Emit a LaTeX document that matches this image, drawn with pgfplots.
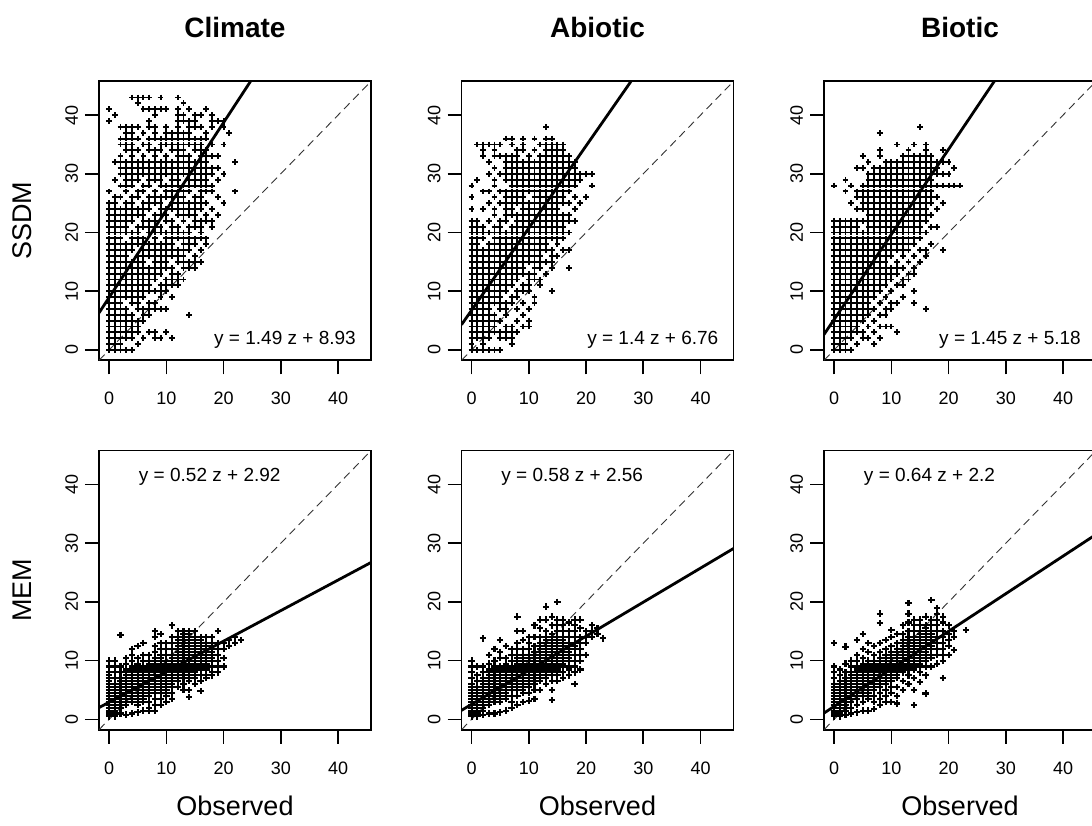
\documentclass[border=0pt]{standalone}
\usepackage{fontspec}
\setmainfont{Liberation Sans}
\usepackage{pgfplots}
\pgfplotsset{compat=1.18}
\pgfplotsset{
  panel/.style={
    scale only axis, width=136pt, height=139.5pt, anchor=south west,
    xmin=-1.76, xmax=45.76, ymin=-1.76, ymax=45.76,
    xtick={0,10,20,30,40}, ytick={0,10,20,30,40},
    tick pos=left, tick align=outside, major tick length=7pt,
    every tick/.style={black, line width=0.8pt},
    axis line style={line width=0.8pt},
    ticklabel style={font=\fontsize{9}{10}\selectfont},
    /pgf/number format/assume math mode=true,
    yticklabel style={rotate=90, anchor=south},
    xticklabel style={anchor=north, yshift=-5.5pt},
    title style={at={(0.5,1.151)}, anchor=center, font=\bfseries\fontsize{14}{16}\selectfont},
    xlabel style={at={(axis description cs:0.5,-0.272)}, anchor=center, font=\fontsize{13.5}{15}\selectfont},
    ylabel style={at={(axis description cs:-0.283,0.5)}, anchor=center, font=\fontsize{13.5}{15}\selectfont},
  },
  pts/.style={only marks, mark=+, mark size=1.45pt, mark options={line width=0.95pt}, black},
  ptm/.style={only marks, mark=+, mark size=1.6pt, mark options={line width=1.05pt}, black},
  fit/.style={no marks, line width=1.4pt, black},
  one/.style={no marks, line width=0.45pt, black!80, dash pattern=on 4pt off 2.5pt},
}
\newcommand{\eqfont}{\fontsize{9.5}{11}\selectfont}
\begin{document}
\begin{tikzpicture}
\path[use as bounding box] (0,0) rectangle (546pt,412.5pt);
% ---------------- SSDM Climate
\begin{axis}[panel, at={(49.5pt,232.35pt)}, title={Climate}, ylabel={SSDM}]
\addplot[pts] coordinates {
(0,0)(0,1)(0,2)(0,3)(0,4)(0,5)(0,6)(0,7)(0,8)(0,9)(0,10)(0,11)(0,12)(0,13)(0,14)(0,15)(0,16)(0,17)(0,18)(0,19)(0,20)(0,21)(0,22)(0,23)(0,24)(0,25)(0,27)(0,39)(0,41)
(1,0)(1,1)(1,2)(1,3)(1,4)(1,5)(1,6)(1,7)(1,8)(1,9)(1,10)(1,11)(1,12)(1,13)(1,14)(1,15)(1,16)(1,17)(1,18)(1,19)(1,20)(1,21)(1,22)(1,23)(1,24)(1,25)(1,26)(1,29)(1,32)(1,40)
(2,0)(2,1)(2,2)(2,3)(2,4)(2,5)(2,6)(2,7)(2,8)(2,9)(2,10)(2,11)(2,12)(2,13)(2,14)(2,15)(2,16)(2,17)(2,18)(2,19)(2,20)(2,21)(2,22)(2,23)(2,24)(2,26)(2,28)(2,30)(2,31)(2,32)(2,33)(2,35)(2,36)(2,38)
(3,0)(3,2)(3,3)(3,4)(3,5)(3,6)(3,7)(3,9)(3,10)(3,11)(3,12)(3,13)(3,14)(3,15)(3,16)(3,17)(3,18)(3,20)(3,21)(3,22)(3,23)(3,24)(3,25)(3,27)(3,28)(3,29)(3,30)(3,31)(3,32)(3,34)(3,35)(3,36)(3,37)(3,38)
(4,0)(4,2)(4,3)(4,4)(4,5)(4,6)(4,8)(4,9)(4,10)(4,11)(4,12)(4,13)(4,14)(4,15)(4,17)(4,18)(4,19)(4,20)(4,22)(4,23)(4,24)(4,25)(4,26)(4,28)(4,29)(4,30)(4,31)(4,32)(4,33)(4,34)(4,35)(4,36)(4,37)(4,38)(4,43)
(5,1)(5,3)(5,4)(5,5)(5,7)(5,8)(5,9)(5,10)(5,11)(5,12)(5,13)(5,14)(5,15)(5,16)(5,18)(5,19)(5,20)(5,21)(5,23)(5,24)(5,26)(5,27)(5,29)(5,30)(5,31)(5,32)(5,34)(5,36)(5,38)(5,42)(5,43)
(6,2)(6,5)(6,6)(6,7)(6,9)(6,10)(6,11)(6,12)(6,13)(6,14)(6,15)(6,16)(6,17)(6,18)(6,19)(6,21)(6,22)(6,23)(6,24)(6,25)(6,27)(6,28)(6,30)(6,31)(6,32)(6,33)(6,35)(6,37)(6,41)(6,43)
(7,3)(7,6)(7,7)(7,8)(7,10)(7,11)(7,12)(7,13)(7,14)(7,16)(7,17)(7,18)(7,20)(7,21)(7,22)(7,24)(7,25)(7,26)(7,28)(7,29)(7,30)(7,31)(7,32)(7,34)(7,35)(7,36)(7,38)(7,39)(7,41)(7,43)
(8,2)(8,3)(8,7)(8,8)(8,10)(8,12)(8,13)(8,14)(8,15)(8,16)(8,17)(8,18)(8,19)(8,20)(8,21)(8,22)(8,23)(8,25)(8,26)(8,27)(8,29)(8,30)(8,31)(8,32)(8,33)(8,34)(8,36)(8,37)(8,38)(8,40)(8,41)
(9,2)(9,7)(9,9)(9,10)(9,11)(9,13)(9,14)(9,15)(9,16)(9,17)(9,18)(9,20)(9,21)(9,23)(9,24)(9,25)(9,26)(9,28)(9,29)(9,30)(9,31)(9,32)(9,34)(9,35)(9,36)(9,41)(9,43)
(10,3)(10,7)(10,10)(10,11)(10,12)(10,14)(10,15)(10,16)(10,17)(10,18)(10,19)(10,20)(10,22)(10,23)(10,24)(10,26)(10,27)(10,28)(10,30)(10,31)(10,32)(10,33)(10,35)(10,36)(10,37)(10,38)(10,41)
(11,2)(11,9)(11,11)(11,12)(11,13)(11,14)(11,16)(11,17)(11,18)(11,19)(11,20)(11,21)(11,22)(11,24)(11,25)(11,26)(11,27)(11,28)(11,29)(11,30)(11,31)(11,32)(11,34)(11,35)(11,36)(11,37)
(12,11)(12,12)(12,13)(12,15)(12,16)(12,17)(12,19)(12,20)(12,21)(12,23)(12,24)(12,25)(12,26)(12,27)(12,28)(12,29)(12,30)(12,31)(12,32)(12,33)(12,34)(12,35)(12,36)(12,37)(12,38)(12,39)(12,40)(12,41)(12,43)
(13,12)(13,14)(13,15)(13,16)(13,17)(13,18)(13,19)(13,20)(13,22)(13,23)(13,24)(13,25)(13,26)(13,27)(13,28)(13,30)(13,31)(13,32)(13,33)(13,34)(13,35)(13,36)(13,37)(13,39)(13,40)(13,42)
(14,6)(14,14)(14,15)(14,17)(14,18)(14,19)(14,20)(14,21)(14,23)(14,24)(14,25)(14,27)(14,28)(14,29)(14,30)(14,31)(14,32)(14,33)(14,35)(14,36)(14,37)(14,38)(14,39)(14,41)
(15,14)(15,15)(15,16)(15,18)(15,19)(15,21)(15,22)(15,23)(15,24)(15,25)(15,26)(15,28)(15,29)(15,30)(15,31)(15,32)(15,34)(15,35)(15,36)(15,38)(15,39)(15,40)
(16,15)(16,17)(16,19)(16,20)(16,21)(16,22)(16,24)(16,25)(16,26)(16,27)(16,28)(16,29)(16,30)(16,31)(16,32)(16,33)(16,34)(16,35)(16,36)(16,38)(16,40)
(17,18)(17,19)(17,22)(17,23)(17,25)(17,27)(17,28)(17,29)(17,30)(17,31)(17,32)(17,33)(17,34)(17,36)(17,37)(17,41)
(18,21)(18,22)(18,24)(18,27)(18,28)(18,30)(18,31)(18,33)(18,35)(18,38)(18,39)(18,40)
(19,23)(19,26)(19,29)(19,31)(19,33)(19,39)
(20,25)(20,30)(20,35)(20,38)(20,39)
(21,37)(22,27)(22,32)
};
\addplot[one] coordinates {(-1.76,-1.76)(45.76,45.76)};
\addplot[fit] coordinates {(-1.76,6.31)(24.72,45.76)};
\node[anchor=east, font=\eqfont] at (rel axis cs:0.97,0.075) {y = 1.49 z + 8.93};
\end{axis}
% ---------------- SSDM Abiotic
\begin{axis}[panel, at={(230.75pt,232.35pt)}, title={Abiotic}]
\addplot[pts] coordinates {
(0,0)(0,1)(0,2)(0,3)(0,4)(0,5)(0,6)(0,7)(0,8)(0,9)(0,10)(0,11)(0,12)(0,13)(0,14)(0,15)(0,16)(0,17)(0,18)(0,19)(0,20)(0,21)(0,22)(0,24)(0,26)(0,28)
(1,0)(1,2)(1,3)(1,4)(1,5)(1,6)(1,7)(1,8)(1,9)(1,10)(1,11)(1,12)(1,13)(1,14)(1,15)(1,16)(1,17)(1,18)(1,19)(1,20)(1,21)(1,22)(1,29)(1,35)
(2,0)(2,1)(2,2)(2,3)(2,4)(2,5)(2,6)(2,7)(2,8)(2,9)(2,10)(2,11)(2,12)(2,13)(2,14)(2,15)(2,16)(2,17)(2,19)(2,20)(2,21)(2,24)(2,27)(2,33)(2,34)(2,35)
(3,0)(3,2)(3,3)(3,4)(3,5)(3,6)(3,7)(3,8)(3,9)(3,10)(3,11)(3,12)(3,13)(3,14)(3,15)(3,16)(3,17)(3,18)(3,20)(3,22)(3,25)(3,27)(3,30)(3,32)(3,35)
(4,0)(4,3)(4,4)(4,5)(4,6)(4,8)(4,9)(4,10)(4,11)(4,12)(4,13)(4,14)(4,15)(4,16)(4,17)(4,18)(4,19)(4,20)(4,21)(4,23)(4,24)(4,26)(4,28)(4,29)(4,31)(4,33)(4,34)(4,35)
(5,0)(5,2)(5,3)(5,5)(5,7)(5,8)(5,9)(5,10)(5,11)(5,12)(5,13)(5,14)(5,15)(5,16)(5,17)(5,18)(5,19)(5,20)(5,21)(5,22)(5,25)(5,27)(5,30)(5,33)(5,35)
(6,2)(6,3)(6,4)(6,6)(6,7)(6,8)(6,10)(6,11)(6,12)(6,13)(6,14)(6,15)(6,16)(6,17)(6,18)(6,19)(6,20)(6,22)(6,23)(6,24)(6,25)(6,26)(6,27)(6,29)(6,30)(6,31)(6,32)(6,33)(6,36)
(7,1)(7,2)(7,3)(7,4)(7,8)(7,9)(7,11)(7,12)(7,13)(7,14)(7,15)(7,16)(7,17)(7,18)(7,19)(7,20)(7,21)(7,23)(7,24)(7,25)(7,26)(7,27)(7,28)(7,29)(7,30)(7,31)(7,32)(7,33)(7,35)(7,36)
(8,3)(8,5)(8,7)(8,9)(8,10)(8,12)(8,13)(8,14)(8,15)(8,16)(8,17)(8,18)(8,19)(8,20)(8,21)(8,22)(8,23)(8,25)(8,26)(8,27)(8,28)(8,29)(8,30)(8,31)(8,32)(8,33)(8,34)
(9,4)(9,6)(9,8)(9,10)(9,11)(9,13)(9,14)(9,15)(9,16)(9,17)(9,18)(9,19)(9,20)(9,21)(9,22)(9,23)(9,24)(9,25)(9,26)(9,27)(9,28)(9,29)(9,30)(9,31)(9,32)(9,34)(9,35)(9,36)
(10,4)(10,5)(10,7)(10,10)(10,11)(10,12)(10,13)(10,15)(10,16)(10,17)(10,18)(10,19)(10,20)(10,21)(10,22)(10,23)(10,24)(10,25)(10,27)(10,28)(10,29)(10,30)(10,31)(10,32)(10,33)
(11,8)(11,9)(11,12)(11,13)(11,14)(11,15)(11,16)(11,17)(11,18)(11,19)(11,20)(11,21)(11,22)(11,23)(11,24)(11,25)(11,26)(11,27)(11,28)(11,29)(11,30)(11,31)(11,32)(11,34)(11,36)
(12,11)(12,12)(12,14)(12,15)(12,16)(12,17)(12,18)(12,19)(12,20)(12,21)(12,22)(12,23)(12,24)(12,25)(12,26)(12,27)(12,28)(12,29)(12,30)(12,31)(12,32)(12,33)(12,35)
(13,13)(13,15)(13,17)(13,18)(13,19)(13,20)(13,21)(13,22)(13,23)(13,24)(13,25)(13,26)(13,27)(13,28)(13,29)(13,30)(13,31)(13,32)(13,33)(13,34)(13,35)(13,36)(13,38)
(14,10)(14,14)(14,15)(14,16)(14,17)(14,19)(14,20)(14,21)(14,22)(14,23)(14,24)(14,25)(14,26)(14,27)(14,28)(14,29)(14,30)(14,31)(14,32)(14,33)(14,34)(14,35)(14,36)
(15,16)(15,18)(15,19)(15,20)(15,21)(15,22)(15,23)(15,24)(15,25)(15,26)(15,27)(15,28)(15,29)(15,30)(15,31)(15,32)(15,33)(15,34)(15,35)
(16,17)(16,19)(16,20)(16,21)(16,22)(16,23)(16,25)(16,26)(16,27)(16,28)(16,29)(16,30)(16,31)(16,32)(16,33)(16,34)(16,35)
(17,14)(17,17)(17,20)(17,22)(17,23)(17,25)(17,27)(17,28)(17,29)(17,30)(17,31)(17,32)(17,33)
(18,22)(18,24)(18,26)(18,28)(18,29)(18,30)(18,31)(18,32)
(19,25)(19,29)(19,30)(20,26)(20,30)(21,28)(21,30)
};
\addplot[one] coordinates {(-1.76,-1.76)(45.76,45.76)};
\addplot[fit] coordinates {(-1.76,4.30)(27.86,45.76)};
\node[anchor=east, font=\eqfont] at (rel axis cs:0.97,0.075) {y = 1.4 z + 6.76};
\end{axis}
% ---------------- SSDM Biotic
\begin{axis}[panel, at={(412pt,232.35pt)}, title={Biotic}]
\addplot[pts] coordinates {
(0,0)(0,1)(0,2)(0,3)(0,4)(0,5)(0,6)(0,7)(0,8)(0,9)(0,10)(0,11)(0,12)(0,13)(0,14)(0,15)(0,16)(0,17)(0,18)(0,19)(0,20)(0,21)(0,22)(0,28)
(1,0)(1,1)(1,2)(1,3)(1,4)(1,5)(1,6)(1,7)(1,8)(1,9)(1,10)(1,11)(1,12)(1,13)(1,14)(1,15)(1,16)(1,17)(1,18)(1,19)(1,20)(1,21)(1,22)
(2,0)(2,1)(2,2)(2,3)(2,4)(2,5)(2,6)(2,7)(2,8)(2,9)(2,10)(2,11)(2,12)(2,13)(2,14)(2,15)(2,16)(2,17)(2,18)(2,19)(2,20)(2,21)(2,22)(2,27)(2,29)
(3,0)(3,2)(3,3)(3,4)(3,5)(3,6)(3,7)(3,8)(3,9)(3,10)(3,11)(3,12)(3,13)(3,14)(3,15)(3,16)(3,17)(3,18)(3,19)(3,20)(3,21)(3,22)(3,25)(3,28)
(4,1)(4,3)(4,4)(4,5)(4,6)(4,7)(4,8)(4,9)(4,10)(4,11)(4,12)(4,13)(4,14)(4,15)(4,16)(4,17)(4,18)(4,19)(4,20)(4,21)(4,22)(4,24)(4,26)(4,27)(4,31)
(5,2)(5,3)(5,5)(5,6)(5,7)(5,8)(5,9)(5,10)(5,11)(5,12)(5,13)(5,14)(5,15)(5,16)(5,17)(5,18)(5,19)(5,20)(5,22)(5,24)(5,25)(5,26)(5,27)(5,28)(5,31)(5,33)
(6,2)(6,4)(6,6)(6,7)(6,8)(6,9)(6,10)(6,11)(6,12)(6,13)(6,14)(6,15)(6,16)(6,17)(6,18)(6,19)(6,20)(6,21)(6,22)(6,23)(6,24)(6,25)(6,26)(6,27)(6,28)(6,29)(6,30)(6,32)
(7,1)(7,3)(7,5)(7,7)(7,9)(7,10)(7,11)(7,12)(7,13)(7,14)(7,15)(7,16)(7,17)(7,18)(7,19)(7,20)(7,21)(7,22)(7,23)(7,24)(7,25)(7,26)(7,27)(7,28)(7,29)(7,30)(7,31)
(8,2)(8,4)(8,6)(8,8)(8,10)(8,11)(8,12)(8,13)(8,14)(8,15)(8,16)(8,17)(8,18)(8,19)(8,20)(8,21)(8,22)(8,23)(8,24)(8,25)(8,26)(8,27)(8,28)(8,29)(8,30)(8,31)(8,33)(8,34)(8,37)
(9,4)(9,6)(9,7)(9,9)(9,11)(9,12)(9,13)(9,14)(9,15)(9,16)(9,17)(9,18)(9,19)(9,20)(9,21)(9,22)(9,23)(9,24)(9,25)(9,26)(9,27)(9,28)(9,29)(9,30)(9,31)(9,32)
(10,4)(10,7)(10,8)(10,10)(10,12)(10,13)(10,14)(10,16)(10,17)(10,18)(10,19)(10,20)(10,21)(10,22)(10,23)(10,24)(10,25)(10,26)(10,27)(10,28)(10,29)(10,30)(10,31)(10,32)
(11,3)(11,8)(11,11)(11,13)(11,14)(11,15)(11,17)(11,18)(11,19)(11,20)(11,21)(11,22)(11,23)(11,24)(11,25)(11,26)(11,27)(11,28)(11,29)(11,30)(11,31)(11,32)(11,35)
(12,9)(12,11)(12,12)(12,14)(12,16)(12,17)(12,18)(12,19)(12,20)(12,21)(12,22)(12,23)(12,24)(12,25)(12,26)(12,27)(12,28)(12,29)(12,30)(12,31)(12,32)(12,33)
(13,12)(13,13)(13,15)(13,17)(13,18)(13,19)(13,20)(13,21)(13,22)(13,23)(13,24)(13,25)(13,26)(13,27)(13,28)(13,29)(13,30)(13,31)(13,32)(13,33)(13,34)
(14,8)(14,10)(14,13)(14,14)(14,16)(14,18)(14,19)(14,20)(14,21)(14,22)(14,23)(14,24)(14,25)(14,26)(14,27)(14,28)(14,29)(14,30)(14,31)(14,32)(14,33)(14,35)
(15,15)(15,17)(15,19)(15,20)(15,21)(15,22)(15,23)(15,24)(15,25)(15,26)(15,27)(15,28)(15,29)(15,30)(15,31)(15,32)(15,33)(15,38)
(16,7)(16,16)(16,17)(16,20)(16,22)(16,23)(16,24)(16,25)(16,26)(16,27)(16,28)(16,29)(16,30)(16,31)(16,32)(16,33)(16,34)(16,35)
(17,18)(17,21)(17,23)(17,25)(17,26)(17,27)(17,28)(17,29)(17,30)(17,31)(17,32)(17,33)
(18,21)(18,24)(18,26)(18,28)(18,30)(18,31)(18,32)
(19,17)(19,25)(19,28)(19,30)(19,32)(19,34)
(20,28)(20,30)(20,32)(21,28)(21,31)(22,28)
};
\addplot[one] coordinates {(-1.76,-1.76)(45.76,45.76)};
\addplot[fit] coordinates {(-1.76,2.63)(27.99,45.76)};
\node[anchor=east, font=\eqfont] at (rel axis cs:0.97,0.075) {y = 1.45 z + 5.18};
\end{axis}
% ---------------- MEM Climate
\begin{axis}[panel, at={(49.5pt,47.65pt)}, ylabel={MEM}, xlabel={Observed}]
\addplot[ptm] coordinates {
(0,0.5)(0,1)(0,1.5)(0,2)(0,2.5)(0,3)(0,3.5)(0,4)(0,4.5)(0,5)(0,5.5)(0,6)(0,6.5)(0,7)(0,7.5)(0,8)(0,9)(0,10)
(1,0.5)(1,1)(1,1.5)(1,2)(1,2.5)(1,3)(1,3.5)(1,4)(1,4.5)(1,5)(1,5.5)(1,6)(1,7)(1,8)(1,9)(1,10)
(2,1)(2,2)(2,2.5)(2,3)(2,3.5)(2,4)(2,4.5)(2,5)(2,5.5)(2,6)(2,6.5)(2,7)(2,8)(2,9)(2,14.4)
(3,0.8)(3,2.5)(3,3)(3,3.5)(3,4)(3,4.5)(3,5)(3,5.5)(3,6)(3,6.5)(3,7)(3,7.5)(3,8)(3,8.5)(3,9.5)(3,10.5)
(4,1)(4,3)(4,3.5)(4,4)(4,4.5)(4,5)(4,5.5)(4,6)(4,6.5)(4,7)(4,7.5)(4,8)(4,8.5)(4,9)(4,10)(4,11)(4,12)
(5,1.2)(5,2.5)(5,3)(5,3.5)(5,4)(5,4.5)(5,5)(5,5.5)(5,6)(5,6.5)(5,7)(5,7.5)(5,8)(5,8.5)(5,9)(5,9.5)(5,10.5)(5,12.5)
(6,1.5)(6,3)(6,3.5)(6,4)(6,4.5)(6,5)(6,5.5)(6,6)(6,6.5)(6,7)(6,7.5)(6,8)(6,8.5)(6,9)(6,10)(6,11)(6,13)
(7,1.5)(7,2)(7,3)(7,4)(7,4.5)(7,5)(7,5.5)(7,6)(7,6.5)(7,7)(7,7.5)(7,8)(7,8.5)(7,9)(7,9.5)(7,10)(7,11)
(8,1.5)(8,2.5)(8,3.5)(8,4.5)(8,5)(8,5.5)(8,6)(8,6.5)(8,7)(8,7.5)(8,8)(8,8.5)(8,9)(8,9.5)(8,10)(8,10.5)(8,11.5)(8,12.5)(8,14)(8,15)
(9,2.5)(9,3.5)(9,4.5)(9,5)(9,5.5)(9,6)(9,6.5)(9,7)(9,7.5)(9,8)(9,8.5)(9,9)(9,9.5)(9,10)(9,10.5)(9,11)(9,12)(9,13)(9,14.5)
(10,3)(10,4)(10,4.5)(10,5)(10,5.5)(10,6)(10,6.5)(10,7)(10,7.5)(10,8)(10,8.5)(10,9)(10,9.5)(10,10)(10,11)(10,12)(10,13)
(11,3.5)(11,4.5)(11,5.5)(11,6)(11,6.5)(11,7)(11,7.5)(11,8)(11,8.5)(11,9)(11,9.5)(11,10)(11,10.5)(11,11)(11,12)(11,13)(11,14)(11,16)
(12,5.5)(12,6.5)(12,7)(12,7.5)(12,8)(12,8.5)(12,9)(12,9.5)(12,10)(12,10.5)(12,11)(12,11.5)(12,12)(12,12.5)(12,13)(12,13.5)(12,14)(12,15)
(13,5)(13,6)(13,7)(13,7.5)(13,8)(13,8.5)(13,9)(13,9.5)(13,10)(13,10.5)(13,11)(13,11.5)(13,12)(13,12.5)(13,13)(13,13.5)(13,14)(13,14.5)(13,15)
(14,3.8)(14,5)(14,6.5)(14,7)(14,7.5)(14,8)(14,8.5)(14,9)(14,9.5)(14,10)(14,10.5)(14,11)(14,11.5)(14,12)(14,12.5)(14,13)(14,13.5)(14,14)(14,14.5)(14,15)
(15,6)(15,7)(15,7.5)(15,8)(15,8.5)(15,9)(15,9.5)(15,10)(15,10.5)(15,11)(15,11.5)(15,12)(15,12.5)(15,13)(15,13.5)(15,14)(15,15)
(16,4.8)(16,6.5)(16,7.5)(16,8.5)(16,9)(16,9.5)(16,10)(16,10.5)(16,11)(16,11.5)(16,12)(16,12.5)(16,13)(16,13.5)(16,14)
(17,7)(17,7.5)(17,8.5)(17,9)(17,9.5)(17,10)(17,10.5)(17,11)(17,11.5)(17,12)(17,12.5)(17,13)(17,14)
(18,7.5)(18,8)(18,9)(18,10)(18,10.5)(18,11)(18,11.5)(18,12)(18,12.5)(18,13)(18,14)
(19,8)(19,9)(19,10)(19,11)(19,12)(19,13)(19,15)
(20,9)(20,10.5)(20,12)(20,13)(21,12.5)(21,13.5)(22,13)(22,14)(23,13.5)
};
\addplot[one] coordinates {(-1.76,-1.76)(45.76,45.76)};
\addplot[fit] coordinates {(-1.76,2.00)(45.76,26.72)};
\node[anchor=west, font=\eqfont] at (rel axis cs:0.121,0.907) {y = 0.52 z + 2.92};
\end{axis}
% ---------------- MEM Abiotic
\begin{axis}[panel, at={(230.75pt,47.65pt)}, xlabel={Observed}]
\addplot[ptm] coordinates {
(0,0.5)(0,1)(0,1.5)(0,2)(0,2.5)(0,3)(0,3.5)(0,4)(0,4.5)(0,5)(0,5.5)(0,6)(0,7)(0,8)(0,9)(0,10)
(1,0.5)(1,1)(1,1.5)(1,2)(1,2.5)(1,3)(1,3.5)(1,4)(1,4.5)(1,5)(1,5.5)(1,6.5)(1,7.5)(1,9)
(2,0.7)(2,1.5)(2,2)(2,2.5)(2,3)(2,3.5)(2,4)(2,4.5)(2,5)(2,5.5)(2,6)(2,6.5)(2,7)(2,8)(2,9)(2,13.8)
(3,1)(3,2.5)(3,3)(3,3.5)(3,4)(3,4.5)(3,5)(3,5.5)(3,6)(3,6.5)(3,7)(3,7.5)(3,8)(3,8.5)(3,9.5)(3,11)
(4,1)(4,3)(4,3.5)(4,4)(4,4.5)(4,5)(4,5.5)(4,6)(4,6.5)(4,7)(4,7.5)(4,8)(4,8.5)(4,9)(4,10)(4,12)
(5,1.2)(5,3)(5,3.5)(5,4)(5,4.5)(5,5)(5,5.5)(5,6)(5,6.5)(5,7)(5,7.5)(5,8)(5,8.5)(5,9)(5,10.5)(5,11.5)(5,13.5)
(6,1.5)(6,3.5)(6,4)(6,4.5)(6,5)(6,5.5)(6,6)(6,6.5)(6,7)(6,7.5)(6,8)(6,8.5)(6,9)(6,9.5)(6,10.5)(6,12.5)
(7,2)(7,3)(7,4)(7,5)(7,5.5)(7,6)(7,6.5)(7,7)(7,7.5)(7,8)(7,8.5)(7,9)(7,10)(7,11)(7,12)
(8,2.5)(8,4)(8,5)(8,5.5)(8,6)(8,6.5)(8,7)(8,7.5)(8,8)(8,8.5)(8,9)(8,9.5)(8,10)(8,10.5)(8,11)(8,12)(8,13)(8,15)(8,17.5)
(9,3)(9,4.5)(9,5)(9,5.5)(9,6)(9,6.5)(9,7)(9,7.5)(9,8)(9,8.5)(9,9)(9,9.5)(9,10)(9,10.5)(9,11)(9,12)(9,13.5)(9,15)
(10,3.2)(10,4.5)(10,5.5)(10,6)(10,6.5)(10,7)(10,7.5)(10,8)(10,8.5)(10,9)(10,9.5)(10,10)(10,10.5)(10,11)(10,12)(10,13)(10,14)
(11,3.5)(11,5)(11,6)(11,6.5)(11,7)(11,7.5)(11,8)(11,8.5)(11,9)(11,9.5)(11,10)(11,10.5)(11,11)(11,11.5)(11,12.5)(11,14)(11,16)
(12,5)(12,6.5)(12,7)(12,7.5)(12,8)(12,8.5)(12,9)(12,9.5)(12,10)(12,10.5)(12,11)(12,11.5)(12,12)(12,12.5)(12,13)(12,14)(12,15.5)(12,17)
(13,6)(13,7)(13,7.5)(13,8)(13,8.5)(13,9)(13,9.5)(13,10)(13,10.5)(13,11)(13,11.5)(13,12)(13,12.5)(13,13)(13,13.5)(13,14)(13,15)(13,17)(13,19.2)
(14,3.3)(14,5)(14,6.5)(14,7.5)(14,8)(14,8.5)(14,9)(14,9.5)(14,10)(14,10.5)(14,11)(14,11.5)(14,12)(14,12.5)(14,13)(14,13.5)(14,14)(14,14.5)(14,16)(14,17.5)
(15,6.5)(15,7.5)(15,8)(15,8.5)(15,9)(15,9.5)(15,10)(15,10.5)(15,11)(15,11.5)(15,12)(15,12.5)(15,13)(15,13.5)(15,14)(15,15)(15,16)(15,17)(15,20)
(16,7)(16,8)(16,9)(16,9.5)(16,10)(16,10.5)(16,11)(16,11.5)(16,12)(16,12.5)(16,13)(16,13.5)(16,14)(16,15)(16,16)(16,17)
(17,7.5)(17,8.5)(17,9)(17,10)(17,10.5)(17,11)(17,11.5)(17,12)(17,12.5)(17,13)(17,14)(17,15)(17,16.5)
(18,6)(18,8)(18,9)(18,10)(18,11)(18,12)(18,12.5)(18,13)(18,14)(18,15)(18,16)(18,17)
(19,8.5)(19,10)(19,11)(19,12)(19,13)(19,14)(19,15.5)(19,17)
(20,11)(20,13)(20,14)(20,15)(21,14)(21,15)(21,16)(22,14.5)(22,15.5)(23,13.8)
};
\addplot[one] coordinates {(-1.76,-1.76)(45.76,45.76)};
\addplot[fit] coordinates {(-1.76,1.54)(45.76,29.10)};
\node[anchor=west, font=\eqfont] at (rel axis cs:0.121,0.907) {y = 0.58 z + 2.56};
\end{axis}
% ---------------- MEM Biotic
\begin{axis}[panel, at={(412pt,47.65pt)}, xlabel={Observed}]
\addplot[ptm] coordinates {
(0,0.5)(0,1)(0,1.5)(0,2)(0,2.5)(0,3)(0,3.5)(0,4)(0,4.5)(0,5)(0,5.5)(0,6)(0,7)(0,8)(0,9)(0,13)
(1,0.5)(1,1)(1,1.5)(1,2)(1,2.5)(1,3)(1,3.5)(1,4)(1,4.5)(1,5)(1,5.5)(1,6)(1,6.5)(1,7.5)(1,8.5)
(2,0.7)(2,1.5)(2,2)(2,2.5)(2,3)(2,3.5)(2,4)(2,4.5)(2,5)(2,5.5)(2,6)(2,6.5)(2,7)(2,8)(2,9.5)(2,12.4)
(3,1)(3,2)(3,3)(3,3.5)(3,4)(3,4.5)(3,5)(3,5.5)(3,6)(3,6.5)(3,7)(3,7.5)(3,8)(3,9)(3,10)
(4,1.2)(4,2.5)(4,3.5)(4,4)(4,4.5)(4,5)(4,5.5)(4,6)(4,6.5)(4,7)(4,7.5)(4,8)(4,8.5)(4,9)(4,10)(4,11)(4,13.5)
(5,1.5)(5,3)(5,4)(5,4.5)(5,5)(5,5.5)(5,6)(5,6.5)(5,7)(5,7.5)(5,8)(5,8.5)(5,9)(5,9.5)(5,10.5)(5,12)(5,14.5)
(6,1.5)(6,3.5)(6,4)(6,4.5)(6,5)(6,5.5)(6,6)(6,6.5)(6,7)(6,7.5)(6,8)(6,8.5)(6,9)(6,9.5)(6,10)(6,11.5)(6,13)
(7,1.8)(7,3)(7,4)(7,5)(7,5.5)(7,6)(7,6.5)(7,7)(7,7.5)(7,8)(7,8.5)(7,9)(7,9.5)(7,10)(7,11)(7,12.5)
(8,2.5)(8,3.5)(8,4.5)(8,5.5)(8,6)(8,6.5)(8,7)(8,7.5)(8,8)(8,8.5)(8,9)(8,9.5)(8,10)(8,10.5)(8,11.5)(8,13)(8,16.4)(8,18)
(9,3)(9,4)(9,5)(9,6)(9,6.5)(9,7)(9,7.5)(9,8)(9,8.5)(9,9)(9,9.5)(9,10)(9,10.5)(9,11)(9,12)(9,13.5)
(10,3)(10,4.5)(10,5.5)(10,6.5)(10,7)(10,7.5)(10,8)(10,8.5)(10,9)(10,9.5)(10,10)(10,10.5)(10,11)(10,11.5)(10,12.5)(10,14)(10,15.2)
(11,2.7)(11,4)(11,5.5)(11,7)(11,7.5)(11,8)(11,8.5)(11,9)(11,9.5)(11,10)(11,10.5)(11,11)(11,11.5)(11,12)(11,13)(11,14.5)
(12,5)(12,6.5)(12,8)(12,8.5)(12,9)(12,9.5)(12,10)(12,10.5)(12,11)(12,11.5)(12,12)(12,12.5)(12,13)(12,13.5)(12,14.5)(12,16)
(13,6)(13,7.5)(13,8.5)(13,9)(13,9.5)(13,10)(13,10.5)(13,11)(13,11.5)(13,12)(13,12.5)(13,13)(13,13.5)(13,14)(13,15)(13,16.5)(13,18)(13,19.8)
(14,2.4)(14,5)(14,7)(14,8.5)(14,9)(14,9.5)(14,10)(14,10.5)(14,11)(14,11.5)(14,12)(14,12.5)(14,13)(14,13.5)(14,14)(14,15)(14,16)(14,17)
(15,6.4)(15,8)(15,9)(15,9.5)(15,10)(15,10.5)(15,11)(15,11.5)(15,12)(15,12.5)(15,13)(15,13.5)(15,14)(15,14.5)(15,15)(15,16)(15,17)
(16,4.4)(16,7.5)(16,9)(16,10)(16,10.5)(16,11)(16,11.5)(16,12)(16,12.5)(16,13)(16,13.5)(16,14)(16,14.5)(16,15)(16,15.5)(16,16)(16,17.5)
(17,9)(17,10.5)(17,11)(17,12)(17,12.5)(17,13)(17,13.5)(17,14)(17,14.5)(17,15)(17,16)(17,17)(17,20.3)
(18,9.5)(18,11)(18,12)(18,13)(18,14)(18,15)(18,16)(18,17)(18,18)(18,19)
(19,7)(19,10)(19,11)(19,12)(19,13)(19,14)(19,15)(19,16.5)(19,17.5)
(20,11)(20,12.5)(20,13.5)(20,14.5)(20,16)(21,11.8)(21,14)(21,15)(23,15.2)
};
\addplot[one] coordinates {(-1.76,-1.76)(45.76,45.76)};
\addplot[fit] coordinates {(-1.76,1.07)(45.76,31.49)};
\node[anchor=west, font=\eqfont] at (rel axis cs:0.121,0.907) {y = 0.64 z + 2.2};
\end{axis}
\end{tikzpicture}
\end{document}
